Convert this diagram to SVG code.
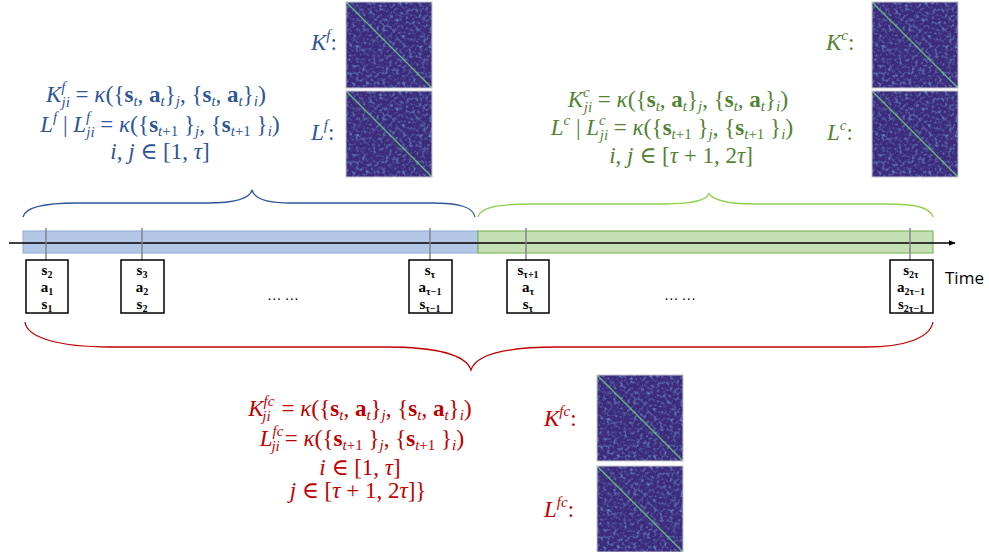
<svg xmlns="http://www.w3.org/2000/svg" width="989" height="552" viewBox="0 0 989 552">
<style>
.m{font-family:"Liberation Serif","DejaVu Serif",serif;font-size:23px}
.i{font-style:italic}
.b{font-weight:bold}
.sc{font-size:15px;font-style:italic}
.scn{font-size:15px}
.p{font-size:24px}
.blue{fill:#2F5597}
.green{fill:#548235}
.red{fill:#C00000}
.bx{fill:#fff;stroke:#000;stroke-width:1.5}
.bt{font-family:"Liberation Serif","DejaVu Serif",serif;font-size:15px;font-weight:bold;fill:#000}
.bs{font-size:10px}
.tick{stroke:#7F8590;stroke-width:1.5}
.mat{fill:#3C2A7C}
.mb{fill:none;stroke:#C8C8D0;stroke-width:1}
.diag{stroke:#6CCB7A;stroke-width:1.3;opacity:0.9}
</style>
<defs>
<filter id="noise" x="0" y="0" width="100%" height="100%" filterUnits="objectBoundingBox">
<feTurbulence type="fractalNoise" baseFrequency="0.3 0.3" numOctaves="2" seed="7" result="t"/>
<feColorMatrix in="t" type="matrix" values="0 0 0 0 0.2  0 0 0 0 0.45  0 0 0 0 0.72  1.7 0 0 0 -0.8"/>
<feComposite in2="SourceGraphic" operator="in"/>
</filter>
<marker id="arr" viewBox="0 0 10 10" refX="9" refY="5" markerWidth="7" markerHeight="7" orient="auto" markerUnits="userSpaceOnUse">
<path d="M0,1 L10,5 L0,9 Z" fill="#000"/>
</marker>
<g id="matrix">
<rect class="mat" x="0" y="0" width="86" height="86"/>
<rect x="0" y="0" width="86" height="86" fill="#fff" filter="url(#noise)"/>
<line class="diag" x1="0" y1="0" x2="86" y2="86"/>
<rect class="mb" x="0" y="0" width="86" height="86"/>
</g>
</defs>

<g id="timeline">
<rect x="23" y="231" width="455" height="22" fill="#B4C7E7" stroke="#8FAADC" stroke-width="1"/>
<rect x="478" y="231" width="455" height="22" fill="#C5E0B4" stroke="#70AD47" stroke-width="1"/>
<line x1="9" y1="243" x2="955" y2="243" stroke="#000" stroke-width="1.3" marker-end="url(#arr)"/>
<text x="945" y="284" font-family="'Open Sans','Noto Sans','Liberation Sans',sans-serif" font-size="17" fill="#000">Time</text>
<text x="283" y="300" text-anchor="middle" font-family="'Liberation Serif',serif" font-size="14" fill="#000">… …</text>
<text x="680" y="300" text-anchor="middle" font-family="'Liberation Serif',serif" font-size="14" fill="#000">… …</text>
</g>

<g id="connectors">
<line class="tick" x1="46" y1="228" x2="46" y2="260"/>
<line class="tick" x1="142" y1="228" x2="142" y2="260"/>
<line class="tick" x1="430" y1="228" x2="430" y2="260"/>
<line class="tick" x1="526" y1="228" x2="526" y2="260"/>
<line class="tick" x1="910" y1="228" x2="910" y2="260"/>
<path id="brace-f" d="M23,217 C25,207 45,203 77,203 L207,203 C235,203 250,198 252,190 C254,198 265,203 290,203 L430,203 C460,203 473,207 475,217" fill="none" stroke="#2F5597" stroke-width="1.3"/>
<path id="brace-c" d="M478,217 C480,207 500,204 530,204 L665,204 C695,204 708,199 709,193 C711,199 725,204 755,204 L885,204 C915,204 930,207 933,217" fill="none" stroke="#92D050" stroke-width="1.3"/>
<path id="brace-fc" d="M25,322 C27,338 60,347 110,347 L385,347 C440,347 466,355 471,370 C476,355 502,347 557,347 L866,347 C905,347 930,338 933,322" fill="none" stroke="#C00000" stroke-width="1.3"/>
</g>

<g id="box-1">
<rect class="bx" x="26" y="260" width="42" height="53"/>
<text class="bt" x="47" y="275" text-anchor="middle">s<tspan class="bs" dy="3">2</tspan></text>
<text class="bt" x="47" y="292" text-anchor="middle">a<tspan class="bs" dy="3">1</tspan></text>
<text class="bt" x="47" y="309" text-anchor="middle">s<tspan class="bs" dy="3">1</tspan></text>
</g>
<g id="box-2">
<rect class="bx" x="121" y="260" width="43" height="53"/>
<text class="bt" x="142" y="275" text-anchor="middle">s<tspan class="bs" dy="3">3</tspan></text>
<text class="bt" x="142" y="292" text-anchor="middle">a<tspan class="bs" dy="3">2</tspan></text>
<text class="bt" x="142" y="309" text-anchor="middle">s<tspan class="bs" dy="3">2</tspan></text>
</g>
<g id="box-3">
<rect class="bx" x="409" y="260" width="43" height="53"/>
<text class="bt" x="430" y="275" text-anchor="middle">s<tspan class="bs" dy="3">τ</tspan></text>
<text class="bt" x="430" y="292" text-anchor="middle">a<tspan class="bs" dy="3">τ−1</tspan></text>
<text class="bt" x="430" y="309" text-anchor="middle">s<tspan class="bs" dy="3">τ−1</tspan></text>
</g>
<g id="box-4">
<rect class="bx" x="507" y="260" width="42" height="53"/>
<text class="bt" x="528" y="275" text-anchor="middle">s<tspan class="bs" dy="3">τ+1</tspan></text>
<text class="bt" x="528" y="292" text-anchor="middle">a<tspan class="bs" dy="3">τ</tspan></text>
<text class="bt" x="528" y="309" text-anchor="middle">s<tspan class="bs" dy="3">τ</tspan></text>
</g>
<g id="box-5">
<rect class="bx" x="890" y="260" width="43" height="53"/>
<text class="bt" x="911" y="275" text-anchor="middle">s<tspan class="bs" dy="3">2τ</tspan></text>
<text class="bt" x="911" y="292" text-anchor="middle">a<tspan class="bs" dy="3">2τ−1</tspan></text>
<text class="bt" x="911" y="309" text-anchor="middle">s<tspan class="bs" dy="3">2τ−1</tspan></text>
</g>

<g id="formula-f" class="m blue">
<text x="156" y="102" text-anchor="middle"><tspan class="i">K</tspan><tspan class="sc" dy="-10">f</tspan><tspan class="sc" dx="-4" dy="15">ji</tspan><tspan dy="-5"> = </tspan><tspan class="i">κ</tspan><tspan class="p">(</tspan>{<tspan class="b">s</tspan><tspan class="sc" dy="4">t</tspan><tspan dy="-4">, </tspan><tspan class="b">a</tspan><tspan class="sc" dy="4">t</tspan><tspan dy="-4">}</tspan><tspan class="sc" dy="4">j</tspan><tspan dy="-4">, {</tspan><tspan class="b">s</tspan><tspan class="sc" dy="4">t</tspan><tspan dy="-4">, </tspan><tspan class="b">a</tspan><tspan class="sc" dy="4">t</tspan><tspan dy="-4">}</tspan><tspan class="sc" dy="4">i</tspan><tspan class="p" dy="-4">)</tspan></text>
<text x="160" y="132" text-anchor="middle"><tspan class="i">L</tspan><tspan class="sc" dy="-10">f</tspan><tspan dy="10"> | </tspan><tspan class="i">L</tspan><tspan class="sc" dy="-10">f</tspan><tspan class="sc" dx="-4" dy="15">ji</tspan><tspan dy="-5"> = </tspan><tspan class="i">κ</tspan><tspan class="p">(</tspan>{<tspan class="b">s</tspan><tspan class="sc" dy="4">t</tspan><tspan class="scn">+1</tspan><tspan dy="-4"> }</tspan><tspan class="sc" dy="4">j</tspan><tspan dy="-4">, {</tspan><tspan class="b">s</tspan><tspan class="sc" dy="4">t</tspan><tspan class="scn">+1</tspan><tspan dy="-4"> }</tspan><tspan class="sc" dy="4">i</tspan><tspan class="p" dy="-4">)</tspan></text>
<text x="160" y="159" text-anchor="middle"><tspan class="i">i</tspan>, <tspan class="i">j</tspan> ∈ [1, <tspan class="i">τ</tspan>]</text>
</g>

<g id="formula-c" class="m green">
<text x="678" y="107" text-anchor="middle"><tspan class="i">K</tspan><tspan class="sc" dy="-10">c</tspan><tspan class="sc" dx="-6" dy="15">ji</tspan><tspan dy="-5"> = </tspan><tspan class="i">κ</tspan><tspan class="p">(</tspan>{<tspan class="b">s</tspan><tspan class="sc" dy="4">t</tspan><tspan dy="-4">, </tspan><tspan class="b">a</tspan><tspan class="sc" dy="4">t</tspan><tspan dy="-4">}</tspan><tspan class="sc" dy="4">j</tspan><tspan dy="-4">, {</tspan><tspan class="b">s</tspan><tspan class="sc" dy="4">t</tspan><tspan dy="-4">, </tspan><tspan class="b">a</tspan><tspan class="sc" dy="4">t</tspan><tspan dy="-4">}</tspan><tspan class="sc" dy="4">i</tspan><tspan class="p" dy="-4">)</tspan></text>
<text x="672" y="135" text-anchor="middle"><tspan class="i">L</tspan><tspan class="sc" dy="-10">c</tspan><tspan dy="10"> |  </tspan><tspan class="i">L</tspan><tspan class="sc" dy="-10">c</tspan><tspan class="sc" dx="-6" dy="15">ji</tspan><tspan dy="-5"> = </tspan><tspan class="i">κ</tspan><tspan class="p">(</tspan>{<tspan class="b">s</tspan><tspan class="sc" dy="4">t</tspan><tspan class="scn">+1</tspan><tspan dy="-4"> }</tspan><tspan class="sc" dy="4">j</tspan><tspan dy="-4">, {</tspan><tspan class="b">s</tspan><tspan class="sc" dy="4">t</tspan><tspan class="scn">+1</tspan><tspan dy="-4"> }</tspan><tspan class="sc" dy="4">i</tspan><tspan class="p" dy="-4">)</tspan></text>
<text x="681" y="163" text-anchor="middle"><tspan class="i">i</tspan>, <tspan class="i">j</tspan> ∈ [<tspan class="i">τ</tspan> + 1, 2<tspan class="i">τ</tspan>]</text>
</g>

<g id="formula-fc" class="m red">
<text x="360" y="416" text-anchor="middle"><tspan class="i">K</tspan><tspan class="sc" dy="-10">fc</tspan><tspan class="sc" dx="-12" dy="15">ji</tspan><tspan dy="-5" dx="5"> = </tspan><tspan class="i">κ</tspan><tspan class="p">(</tspan>{<tspan class="b">s</tspan><tspan class="sc" dy="4">t</tspan><tspan dy="-4">, </tspan><tspan class="b">a</tspan><tspan class="sc" dy="4">t</tspan><tspan dy="-4">}</tspan><tspan class="sc" dy="4">j</tspan><tspan dy="-4">, {</tspan><tspan class="b">s</tspan><tspan class="sc" dy="4">t</tspan><tspan dy="-4">, </tspan><tspan class="b">a</tspan><tspan class="sc" dy="4">t</tspan><tspan dy="-4">}</tspan><tspan class="sc" dy="4">i</tspan><tspan class="p" dy="-4">)</tspan></text>
<text x="362" y="446" text-anchor="middle"><tspan class="i">L</tspan><tspan class="sc" dy="-10">fc</tspan><tspan class="sc" dx="-12" dy="15">ji</tspan><tspan dy="-5" dx="5">= </tspan><tspan class="i">κ</tspan><tspan class="p">(</tspan>{<tspan class="b">s</tspan><tspan class="sc" dy="4">t</tspan><tspan class="scn">+1</tspan><tspan dy="-4"> }</tspan><tspan class="sc" dy="4">j</tspan><tspan dy="-4">, {</tspan><tspan class="b">s</tspan><tspan class="sc" dy="4">t</tspan><tspan class="scn">+1</tspan><tspan dy="-4"> }</tspan><tspan class="sc" dy="4">i</tspan><tspan class="p" dy="-4">)</tspan></text>
<text x="360" y="475" text-anchor="middle"><tspan class="i">i</tspan> ∈ [1, <tspan class="i">τ</tspan>]</text>
<text x="358" y="498" text-anchor="middle"><tspan class="i">j</tspan> ∈ [<tspan class="i">τ</tspan> + 1, 2<tspan class="i">τ</tspan>]}</text>
</g>

<g id="matrix-Kf">
<text class="m blue" x="311" y="50"><tspan class="i">K</tspan><tspan class="sc" dy="-10">f</tspan><tspan dy="10">:</tspan></text>
<use href="#matrix" x="346" y="2"/>
</g>
<g id="matrix-Lf">
<text class="m blue" x="311" y="140"><tspan class="i">L</tspan><tspan class="sc" dy="-10">f</tspan><tspan dy="10">:</tspan></text>
<use href="#matrix" x="346" y="91"/>
</g>
<g id="matrix-Kc">
<text class="m green" x="826" y="50"><tspan class="i">K</tspan><tspan class="sc" dy="-10">c</tspan><tspan dy="10">:</tspan></text>
<use href="#matrix" x="872" y="2"/>
</g>
<g id="matrix-Lc">
<text class="m green" x="827" y="140"><tspan class="i">L</tspan><tspan class="sc" dy="-10">c</tspan><tspan dy="10">:</tspan></text>
<use href="#matrix" x="872" y="91"/>
</g>
<g id="matrix-Kfc">
<text class="m red" x="544" y="426"><tspan class="i">K</tspan><tspan class="sc" dy="-10">fc</tspan><tspan dy="10">:</tspan></text>
<use href="#matrix" x="597" y="375"/>
</g>
<g id="matrix-Lfc">
<text class="m red" x="544" y="517"><tspan class="i">L</tspan><tspan class="sc" dy="-10">fc</tspan><tspan dy="10">:</tspan></text>
<use href="#matrix" x="597" y="466"/>
</g>
</svg>
